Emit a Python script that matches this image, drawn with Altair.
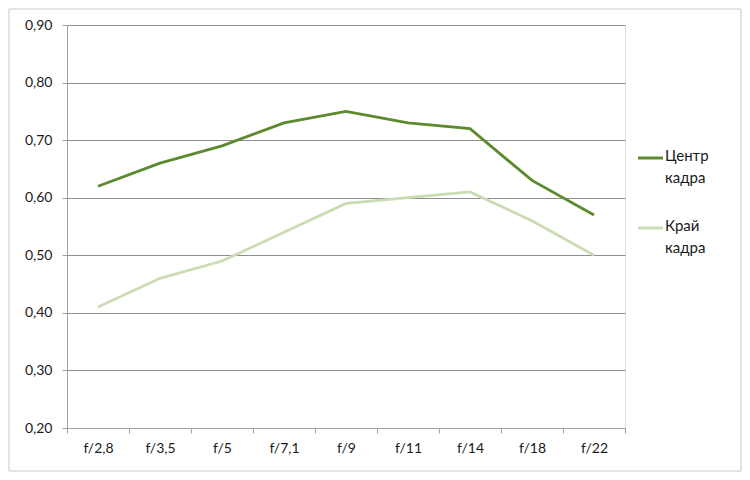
import altair as alt
import pandas as pd

apertures = ["f/2,8", "f/3,5", "f/5", "f/7,1", "f/9", "f/11", "f/14", "f/18", "f/22"]
center = [0.62, 0.66, 0.69, 0.73, 0.75, 0.73, 0.72, 0.63, 0.57]
edge = [0.41, 0.46, 0.49, 0.54, 0.59, 0.60, 0.61, 0.56, 0.50]
series_names = ["Центр кадра", "Край кадра"]
series_colors = ["#5c8a2e", "#cadcb3"]

df = pd.DataFrame({
    "Aperture": apertures * 2,
    "Value": center + edge,
    "Series": [series_names[0]] * len(apertures) + [series_names[1]] * len(apertures),
})
legend_df = pd.DataFrame({"Series": series_names})

W, H = 558, 403
FONT = "Lato"

color = alt.Color("Series:N", sort=series_names, legend=None,
                  scale=alt.Scale(domain=series_names, range=series_colors))

lines = alt.Chart(df).mark_line(strokeWidth=2.8).encode(
    x=alt.X("Aperture:N", sort=apertures, bandPosition=0.5,
            scale=alt.Scale(type="band", paddingInner=0, paddingOuter=0),
            axis=alt.Axis(title=None, labelAngle=0, tickBand="extent", tickSize=5,
                          domainColor="#a0a0a0", tickColor="#a0a0a0", labelPadding=8,
                          labelFontSize=14, labelColor="#1a1a1a", labelFont=FONT, grid=False)),
    y=alt.Y("Value:Q", scale=alt.Scale(domain=[0.2, 0.9], nice=False, zero=False),
            axis=alt.Axis(title=None, values=[0.2, 0.3, 0.4, 0.5, 0.6, 0.7, 0.8, 0.9],
                          labelExpr="replace(format(datum.value, '.2f'), '.', ',')",
                          tickSize=5, tickColor="#a0a0a0", domainColor="#a0a0a0",
                          gridColor="#8e8e8e", labelPadding=10, labelFontSize=14,
                          labelColor="#1a1a1a", labelFont=FONT)),
    color=color,
)

# legend drawn by hand so the two-line labels get Excel-like spacing
legend_y = alt.Y("Series:N", sort=series_names, axis=None,
                 scale=alt.Scale(type="point", domain=series_names, range=[133, 203], padding=0))

legend_sym = alt.Chart(legend_df).mark_rule(strokeWidth=3).encode(
    x=alt.value(571), x2=alt.value(596), y=legend_y, color=color
)
legend_txt = alt.Chart(legend_df).mark_text(
    align="left", baseline="top", dy=-9, lineBreak=" ", lineHeight=22,
    fontSize=15, font=FONT, color="#1a1a1a"
).encode(x=alt.value(598), y=legend_y, text="Series:N")

frame = alt.Chart(pd.DataFrame({"k": [0]})).mark_rect(
    fill="transparent", stroke="#c8c8c8", strokeWidth=1
).encode(
    x=alt.value(-58), x2=alt.value(W + 116), y=alt.value(-16), y2=alt.value(H + 43)
)

chart = alt.layer(frame, lines, legend_sym, legend_txt).resolve_scale(
    y="independent"
).properties(
    width=W, height=H,
    autosize=alt.AutoSizeParams(type="none"),
    padding={"left": 59, "top": 17, "right": 117, "bottom": 44},
).configure_view(stroke=None).configure(background="white")

chart.save("out.html", embed_options={"renderer": "svg", "actions": False})
